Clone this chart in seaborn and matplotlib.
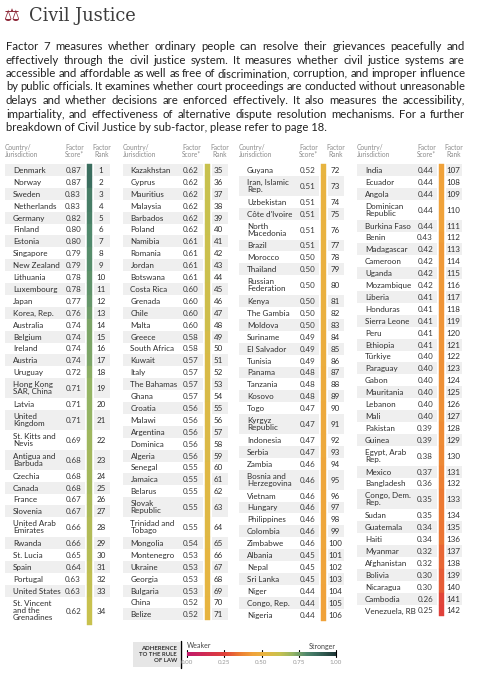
import numpy as np
import pandas as pd
import seaborn as sns
import matplotlib.pyplot as plt
from matplotlib.colors import LinearSegmentedColormap

countries = [
    "Denmark", "Norway", "Sweden", "Netherlands", "Germany", "Finland", "Estonia",
    "Singapore", "New Zealand", "Lithuania", "Luxembourg", "Japan", "Korea, Rep.",
    "Australia", "Belgium", "Ireland", "Austria", "Uruguay", "Hong Kong\nSAR, China",
    "Latvia", "United\nKingdom", "St. Kitts and\nNevis", "Antigua and\nBarbuda",
    "Czechia", "Canada", "France", "Slovenia", "United Arab\nEmirates", "Rwanda",
    "St. Lucia", "Spain", "Portugal", "United States", "St. Vincent\nand the\nGrenadines",
    "Kazakhstan", "Cyprus", "Mauritius", "Malaysia", "Barbados", "Poland", "Namibia",
    "Romania", "Jordan", "Botswana", "Costa Rica", "Grenada", "Chile", "Malta",
    "Greece", "South Africa", "Kuwait", "Italy", "The Bahamas", "Ghana", "Croatia",
    "Malawi", "Argentina", "Dominica", "Algeria", "Senegal", "Jamaica", "Belarus",
    "Slovak\nRepublic", "Trinidad and\nTobago", "Mongolia", "Montenegro", "Ukraine",
    "Georgia", "Bulgaria", "China", "Belize",
    "Guyana", "Iran, Islamic\nRep.", "Uzbekistan", "Côte d'Ivoire", "North\nMacedonia",
    "Brazil", "Morocco", "Thailand", "Russian\nFederation", "Kenya", "The Gambia",
    "Moldova", "Suriname", "El Salvador", "Tunisia", "Panama", "Tanzania", "Kosovo",
    "Togo", "Kyrgyz\nRepublic", "Indonesia", "Serbia", "Zambia", "Bosnia and\nHerzegovina",
    "Vietnam", "Hungary", "Philippines", "Colombia", "Zimbabwe", "Albania", "Nepal",
    "Sri Lanka", "Niger", "Congo, Rep.", "Nigeria",
    "India", "Ecuador", "Angola", "Dominican\nRepublic", "Burkina Faso", "Benin",
    "Madagascar", "Cameroon", "Uganda", "Mozambique", "Liberia", "Honduras",
    "Sierra Leone", "Peru", "Ethiopia", "Türkiye", "Paraguay", "Gabon", "Mauritania",
    "Lebanon", "Mali", "Pakistan", "Guinea", "Egypt, Arab\nRep.", "Mexico", "Bangladesh",
    "Congo, Dem.\nRep.", "Sudan", "Guatemala", "Haiti", "Myanmar", "Afghanistan",
    "Bolivia", "Nicaragua", "Cambodia", "Venezuela, RB",
]
scores = [
    0.87, 0.87, 0.83, 0.83, 0.82, 0.80, 0.80, 0.79, 0.79, 0.78, 0.78, 0.77, 0.76,
    0.74, 0.74, 0.74, 0.74, 0.72, 0.71, 0.71, 0.71, 0.69, 0.68, 0.68, 0.68, 0.67,
    0.67, 0.66, 0.66, 0.65, 0.64, 0.63, 0.63, 0.62,
    0.62, 0.62, 0.62, 0.62, 0.62, 0.62, 0.61, 0.61, 0.61, 0.61, 0.60, 0.60, 0.60,
    0.60, 0.58, 0.58, 0.57, 0.57, 0.57, 0.57, 0.56, 0.56, 0.56, 0.56, 0.56, 0.55,
    0.55, 0.55, 0.55, 0.55, 0.54, 0.53, 0.53, 0.53, 0.53, 0.52, 0.52,
    0.52, 0.51, 0.51, 0.51, 0.51, 0.51, 0.50, 0.50, 0.50, 0.50, 0.50, 0.50, 0.49,
    0.49, 0.49, 0.48, 0.48, 0.48, 0.47, 0.47, 0.47, 0.47, 0.46, 0.46, 0.46, 0.46,
    0.46, 0.46, 0.46, 0.45, 0.45, 0.45, 0.44, 0.44, 0.44,
    0.44, 0.44, 0.44, 0.44, 0.44, 0.43, 0.42, 0.42, 0.42, 0.42, 0.41, 0.41, 0.41,
    0.41, 0.41, 0.40, 0.40, 0.40, 0.40, 0.40, 0.40, 0.39, 0.39, 0.38, 0.37, 0.36,
    0.35, 0.35, 0.34, 0.34, 0.32, 0.32, 0.30, 0.30, 0.26, 0.25,
]
ranks = list(range(1, 143))
column_last_rank = [34, 71, 106, 142]

intro_lines = [
    "Factor 7 measures whether ordinary people can resolve their grievances peacefully and",
    "effectively through the civil justice system. It measures whether civil justice systems are",
    "accessible and affordable as well as free of discrimination, corruption, and improper influence",
    "by public officials. It examines whether court proceedings are conducted without unreasonable",
    "delays and whether decisions are enforced effectively. It also measures the accessibility,",
    "impartiality, and effectiveness of alternative dispute resolution mechanisms. For a further",
    "breakdown of Civil Justice by sub-factor, please refer to page 18.",
]

legend_ticks = [0.0, 0.25, 0.5, 0.75, 1.0]

# escala de color (adherencia al estado de derecho)
cmap_pos = [0.0, 0.25, 0.35, 0.44, 0.52, 0.62, 0.71, 0.80, 0.87, 1.0]
cmap_cols = ["#c0176a", "#e0403a", "#ec7a32", "#f0a23a", "#e8b440",
             "#c8c14e", "#94b464", "#50896c", "#3b6e5f", "#1c3535"]
cmap = LinearSegmentedColormap.from_list("rol", list(zip(cmap_pos, cmap_cols)))

sns.set_theme(style="white")
plt.rcParams['font.family'] = ['Lato', 'DejaVu Sans']

df = pd.DataFrame({"country": countries, "score": scores, "rank": ranks})
df["col"] = np.searchsorted(column_last_rank, df["rank"])
df["lines"] = df["country"].str.count("\n") + 1
df["h"] = 3.9 + 8.0 * df["lines"]
y0 = 164
df["top"] = df.groupby("col")["h"].cumsum() - df["h"] + y0
df["mid"] = df["top"] + df["h"] / 2
col_x = np.array([0, 117.5, 234, 352])
df["cx"] = col_x[df["col"]]

fig = plt.figure(figsize=(4.84, 6.8), dpi=100)
ax = fig.add_axes([0, 0, 1, 1])
ax.set_xlim(0, 484)
ax.set_ylim(680, 0)
ax.axis("off")

# titulo
ax.text(4, 16, "\u2696", fontsize=13, color="#8c2636", va="center", ha="left",
        family="DejaVu Sans")
ax.text(29, 16, "Civil Justice", fontsize=12.8, color="#3d3d3d", va="center",
        ha="left", family="DejaVu Serif")

# parrafo justificado (se mide cada palabra y se reparte el hueco)
renderer = fig.canvas.get_renderer()
for i, line in enumerate(intro_lines):
    y = 50 + 13.5 * i
    if i == len(intro_lines) - 1:
        ax.text(6, y, line, fontsize=8.1, color="#222222", va="baseline")
        continue
    fs = 8.2
    words = line.split(" ")
    while True:
        arts = [ax.text(0, y, w, fontsize=fs, color="#222222", va="baseline") for w in words]
        widths = [a.get_window_extent(renderer).width for a in arts]
        gap = (465 - 6 - sum(widths)) / (len(words) - 1)
        if gap >= 2.3 or fs < 7:
            break
        for a in arts:
            a.remove()
        fs -= 0.1
    x = 6
    for a, w in zip(arts, widths):
        a.set_x(x)
        x += w + gap

# cabeceras
for cx in col_x:
    ax.text(cx + 5, 151, "Country/\nJurisdiction", fontsize=4.8, color="#8c8c8c",
            va="center", ha="left", linespacing=1.1)
    ax.text(cx + 84, 151, "Factor\nScore*", fontsize=4.8, color="#8c8c8c",
            va="center", ha="right", linespacing=1.1)
    ax.text(cx + 102, 151, "Factor\nRank", fontsize=4.8, color="#8c8c8c",
            va="center", ha="center", linespacing=1.1)

# filas grises alternas
odd = df[df["rank"] % 2 == 1]
ax.bar(odd["cx"] + 5, odd["h"], width=80, bottom=odd["top"], align="edge",
       color="#efefef", linewidth=0)
ax.bar(odd["cx"] + 94, odd["h"], width=16, bottom=odd["top"], align="edge",
       color="#efefef", linewidth=0)

# franja de color segun puntuacion
strip_cols = [cmap(s) for s in df["score"]]
ax.bar(df["cx"] + 87, df["h"], width=5, bottom=df["top"], align="edge",
       color=strip_cols, edgecolor=strip_cols, linewidth=0.3)

for _, r in df.iterrows():
    va_name = "center_baseline" if r.lines == 1 else "center"
    ax.text(r.cx + 13, r.mid, r.country, fontsize=5.8, color="#2e2e2e",
            va=va_name, ha="left", linespacing=1.0)
    ax.text(r.cx + 81, r.mid, f"{r.score:.2f}", fontsize=5.8, color="#3a3a3a",
            va="center_baseline", ha="right")
    ax.text(r.cx + 101, r.mid, str(r["rank"]), fontsize=5.8, color="#2e2e2e",
            va="center_baseline", ha="center")

# leyenda
ax.add_patch(plt.Rectangle((133, 642), 47, 25, color="#e6e6e6", linewidth=0))
ax.text(177, 654.5, "ADHERENCE\nTO THE RULE\nOF LAW", fontsize=4.3, fontweight="bold",
        color="#333333", ha="right", va="center", linespacing=1.15)
ax.plot([180.5, 180.5], [641, 668], color="black", lw=1)

bar_x0, bar_w = 187, 149
cax = fig.add_axes([bar_x0 / 484, 1 - 656 / 680, bar_w / 484, 4.5 / 680])
sns.heatmap(np.linspace(0, 1, 256)[None, :], cmap=cmap, vmin=0, vmax=1, cbar=False,
            xticklabels=False, yticklabels=False, ax=cax)
for t in legend_ticks:
    xt = bar_x0 + bar_w * t
    ax.plot([xt, xt], [649.5, 657], color="black", lw=0.8)
    ax.text(xt, 663, f"{t:.2f}", fontsize=4.5, color="#999999", ha="center", va="center")
ax.text(bar_x0, 646, "Weaker", fontsize=5, color="#444444", ha="left", va="center")
ax.text(bar_x0 + bar_w, 646, "Stronger", fontsize=5, color="#444444", ha="right", va="center")

fig.savefig("out.png", dpi=100, facecolor="white")
